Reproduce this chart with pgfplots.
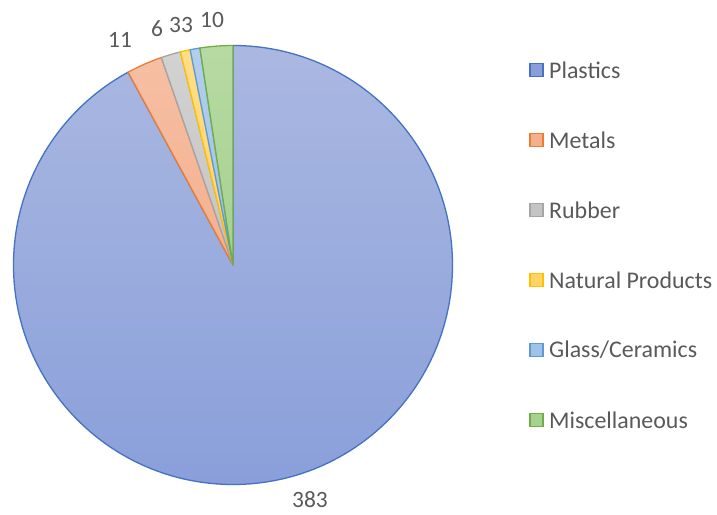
\documentclass[border=0pt]{standalone}
\usepackage{pgfplots}
\pgfplotsset{compat=1.18}
\usepackage{pgfplotstable}
\usepackage{fontspec}
\setmainfont{Carlito}

\definecolor{txt}{HTML}{595959}
\definecolor{plaD}{HTML}{4472C4}\definecolor{plaT}{HTML}{AAB8E1}\definecolor{plaB}{HTML}{8A9FDA}
\definecolor{metD}{HTML}{ED7D31}\definecolor{metT}{HTML}{F6BFA3}\definecolor{metB}{HTML}{F4B08E}
\definecolor{rubD}{HTML}{A5A5A5}\definecolor{rubT}{HTML}{D2D2D2}\definecolor{rubB}{HTML}{C4C4C4}
\definecolor{natD}{HTML}{FFC000}\definecolor{natT}{HTML}{FFDD8A}\definecolor{natB}{HTML}{FFD466}
\definecolor{glaD}{HTML}{5B9BD5}\definecolor{glaT}{HTML}{B2CEEC}\definecolor{glaB}{HTML}{A0C2E6}
\definecolor{misD}{HTML}{70AD47}\definecolor{misT}{HTML}{B7DAA3}\definecolor{misB}{HTML}{A7D18F}

\pgfplotstableread[col sep=comma]{
label,value,lx,ly
Plastics,383,310,15
Metals,11,120,475
Rubber,6,157,486
Natural Products,3,175,490
Glass/Ceramics,3,187,490
Miscellaneous,10,212,495
}\piedata

\begin{document}
\begin{tikzpicture}
% cumulative angles, clockwise from 12 o'clock
\gdef\total{0}
\foreach \i in {0,...,5}{%
  \pgfplotstablegetelem{\i}{value}\of\piedata
  \pgfmathsetmacro\t{\total+\pgfplotsretval}\xdef\total{\t}}
\def\angA{90}
\pgfplotstablegetelem{0}{value}\of\piedata\pgfmathsetmacro\angB{90-360*(\pgfplotsretval/\total)}
\pgfplotstablegetelem{1}{value}\of\piedata\pgfmathsetmacro\angC{\angB-360*(\pgfplotsretval/\total)}
\pgfplotstablegetelem{2}{value}\of\piedata\pgfmathsetmacro\angD{\angC-360*(\pgfplotsretval/\total)}
\pgfplotstablegetelem{3}{value}\of\piedata\pgfmathsetmacro\angE{\angD-360*(\pgfplotsretval/\total)}
\pgfplotstablegetelem{4}{value}\of\piedata\pgfmathsetmacro\angF{\angE-360*(\pgfplotsretval/\total)}
\pgfplotstablegetelem{5}{value}\of\piedata\pgfmathsetmacro\angG{\angF-360*(\pgfplotsretval/\total)}
\def\R{219.5}
\begin{axis}[
  at={(0,0)}, anchor=south west,
  scale only axis, width=717bp, height=515bp,
  xmin=0, xmax=717, ymin=0, ymax=515,
  hide axis, clip=false,
  font=\fontsize{24}{27}\selectfont,
]
\addplot[draw=none] coordinates {(0,0)};
\coordinate (bl) at (axis cs:0,0);
\coordinate (tr) at (axis cs:717,515);
\newcommand\slice[3]{%
  \shade[top color=#3T, bottom color=#3B, draw=#3D, line width=1.3bp, line join=round]
    (axis cs:233,250) -- ++(#1:\R bp) arc[start angle=#1, end angle=#2, radius=\R bp] -- cycle;}
\slice{\angA}{\angB}{pla}
\slice{\angB}{\angC}{met}
\slice{\angC}{\angD}{rub}
\slice{\angD}{\angE}{nat}
\slice{\angE}{\angF}{gla}
\slice{\angF}{\angG}{mis}
% data labels
\addplot[only marks, mark=none, nodes near coords, point meta=explicit symbolic,
  every node near coord/.style={anchor=center, text=txt, font=\fontsize{23.5}{26}\selectfont}]
  table[col sep=comma, x=lx, y=ly, meta=value] {\piedata};
% legend
\foreach \c/\l [count=\k from 0] in {pla/Plastics,met/Metals,rub/Rubber,nat/{Natural Products},gla/{Glass/Ceramics},mis/Miscellaneous}{
  \edef\tmp{\noexpand\filldraw[fill=\c B, draw=\c D, line width=1.5bp]
    (axis cs:530,{445-70*\k-6.5}) rectangle (axis cs:543,{445-70*\k+6.5});
    \noexpand\node[anchor=west, text=txt, inner sep=0pt] at (axis cs:549,{445-70*\k}) {\l};}\tmp
}
\end{axis}
\pgfresetboundingbox
\useasboundingbox (bl) rectangle (tr);
\end{tikzpicture}
\end{document}
